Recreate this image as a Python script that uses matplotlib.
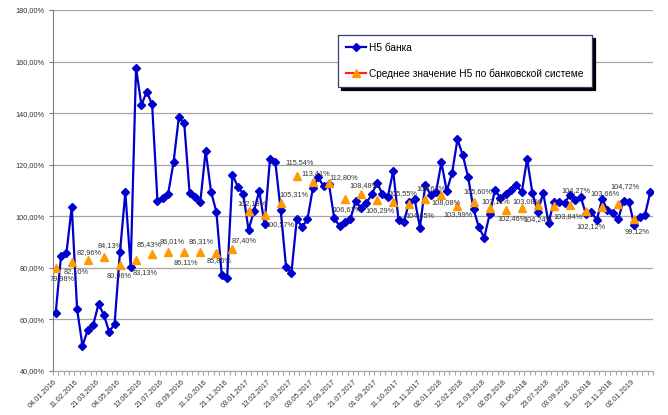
import matplotlib.pyplot as plt
from matplotlib.lines import Line2D
from matplotlib.ticker import FixedLocator, FuncFormatter

# Н5 банка, one value per reporting date (112 dates)
bank_n5 = [
    62.4, 84.6, 85.6, 103.7, 63.9, 49.8, 55.9, 57.8, 66.0, 61.7, 55.1, 58.3,
    86.0, 109.3, 80.2, 157.6, 143.1, 148.3, 143.4, 106.0, 106.9, 108.8, 120.9, 138.6,
    136.0, 108.9, 107.6, 105.6, 125.4, 109.5, 101.7, 77.2, 75.9, 116.2, 111.4, 108.8,
    94.7, 102.0, 109.8, 96.9, 122.2, 121.1, 102.4, 80.4, 77.9, 98.8, 95.9, 98.8,
    110.8, 115.1, 111.7, 112.7, 99.2, 96.2, 97.9, 98.8, 106.0, 103.1, 105.2, 108.5,
    113.0, 108.5, 107.6, 117.6, 98.5, 97.9, 105.6, 106.7, 95.6, 112.3, 108.2, 109.3,
    120.9, 109.8, 116.9, 129.8, 123.7, 115.1, 102.8, 95.7, 91.7, 100.7, 110.2, 107.2,
    108.5, 110.2, 112.1, 109.3, 122.2, 108.9, 101.7, 109.1, 97.5, 105.6, 105.6, 105.2,
    108.2, 106.3, 107.6, 100.7, 101.7, 98.5, 106.7, 102.4, 101.1, 98.9, 106.0, 105.6,
    96.6, 99.6, 100.5, 109.5,
]

# Среднее значение Н5 по банковской системе (every third date)
system_idx = list(range(0, 109, 3))
system_n5 = [
    79.98, 82.10, 82.96, 84.13, 80.96, 83.13, 85.43, 86.01, 86.11, 86.31, 85.86, 87.40,
    102.18, 100.57, 105.31, 115.54, 113.41, 112.80, 106.61, 108.48, 106.29, 105.55, 104.65, 106.63,
    108.08, 103.99, 105.60, 103.11, 102.46, 103.08, 104.24, 103.84, 104.27, 102.12, 103.66, 104.72,
    99.12,
]

# x labels, every fourth date
date_labels = [
    "04.01.2016", "11.02.2016", "21.03.2016", "04.05.2016", "13.06.2016", "21.07.2016",
    "01.09.2016", "11.10.2016", "21.11.2016", "03.01.2017", "13.02.2017", "21.03.2017",
    "03.05.2017", "12.06.2017", "21.07.2017", "01.09.2017", "11.10.2017", "21.11.2017",
    "02.01.2018", "12.02.2018", "21.03.2018", "02.05.2018", "11.06.2018", "23.07.2018",
    "03.09.2018", "11.10.2018", "21.11.2018", "02.01.2019",
]

# data label offsets in pixels (dx, dy)
label_offsets = [
    (6, -11), (4, -9), (1, 8), (6, 12), (-1, -10), (9, -13), (-3, 9), (4, 11),
    (2, -10), (1, 10), (3, -8), (12, 8), (3, 7), (15, -10), (13, 8), (3, 14),
    (3, 8), (15, 6), (2, -10), (3, 9), (3, -10), (10, 8), (11, -11), (6, 11),
    (5, -7), (1, -9), (4, 10), (6, 7), (6, -9), (5, 7), (0, -14), (14, -10),
    (6, 15), (5, -16), (3, 13), (7, 18), (3, -13),
]

plt.rcParams['font.family'] = ['Liberation Sans', 'DejaVu Sans']

fig = plt.figure(figsize=(6.68, 4.15), dpi=100)
ax = fig.add_axes([53 / 668, 1 - 371 / 415, 600 / 668, 361 / 415])

x = list(range(len(bank_n5)))
ax.plot(x, bank_n5, color='#0000CC', linewidth=1.6, marker='D', markersize=4.3,
        zorder=3)
ax.plot(system_idx, system_n5, linestyle='none', marker='^', markersize=6,
        color='#FF9900', zorder=4)

for i, v, (dx, dy) in zip(system_idx, system_n5, label_offsets):
    txt = f"{v:.2f}%".replace('.', ',')
    ax.annotate(txt, (i, v), xytext=(dx, dy), textcoords='offset pixels',
                ha='center', va='center', fontsize=5.3, color='#333333', zorder=5)

ax.set_xlim(-0.5, len(bank_n5) - 0.5)
ax.set_ylim(40, 180)
ax.set_yticks(range(40, 181, 20))
ax.yaxis.set_major_formatter(FuncFormatter(lambda v, p: f"{v:.2f}%".replace('.', ',')))
ax.grid(axis='y', color='#A6A6A6', linewidth=0.9)
ax.set_axisbelow(True)

ax.set_xticks(range(0, 4 * len(date_labels), 4))
ax.set_xticklabels(date_labels, rotation=45, ha='right', va='center',
                   rotation_mode='anchor')
ax.xaxis.set_minor_locator(FixedLocator([k - 0.5 for k in range(len(bank_n5) + 1)]))
ax.tick_params(axis='x', which='major', length=0, pad=7, labelsize=5.3,
               labelcolor='#333333')
ax.tick_params(axis='x', which='minor', length=3, color='#A6A6A6', width=0.8)
ax.tick_params(axis='y', length=3, color='#808080', labelsize=5.3,
               labelcolor='#333333', pad=3)

for side in ('top', 'right'):
    ax.spines[side].set_visible(False)
ax.spines['left'].set_color('#808080')
ax.spines['bottom'].set_color('#A6A6A6')

handles = [
    Line2D([], [], color='#0000CC', linewidth=1.6, marker='D', markersize=4.3),
    Line2D([], [], color='#FF2020', linewidth=1.6, marker='^', markersize=6,
           markerfacecolor='#FF9900', markeredgecolor='#FF9900'),
]
leg = ax.legend(handles, ["Н5 банка", "Среднее значение Н5 по банковской системе"],
                loc='upper left', bbox_to_anchor=(0.475, 0.931), borderaxespad=0,
                fontsize=7.3, frameon=True, fancybox=False,
                shadow={'color': 'black', 'alpha': 1.0},
                labelspacing=1.5, handlelength=2.0, handletextpad=0.3,
                borderpad=0.8)
leg.get_frame().set_edgecolor('#3C3C70')
leg.get_frame().set_linewidth(0.9)

fig.savefig("out.png", dpi=100)
